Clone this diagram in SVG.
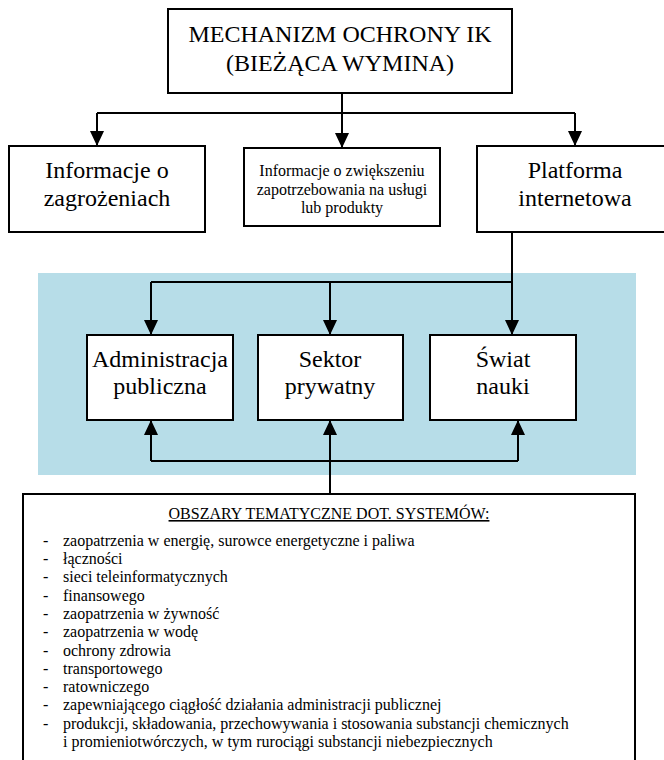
<svg xmlns="http://www.w3.org/2000/svg" width="664" height="760" viewBox="0 0 664 760">
<style>
  .box { fill: #ffffff; stroke: #000000; stroke-width: 2; }
  .conn { fill: none; stroke: #000000; stroke-width: 2; }
  text { font-family: "Liberation Serif", "Times New Roman", serif; fill: #000000; }
  .t24 { font-size: 24px; text-anchor: middle; }
  .t16c { font-size: 16px; text-anchor: middle; }
  .t16 { font-size: 16px; }
</style>
<defs>
  <marker id="arrow" markerUnits="userSpaceOnUse" markerWidth="15" markerHeight="14" refX="15" refY="7" orient="auto">
    <path d="M0,0 L15,7 L0,14 Z" fill="#000000"/>
  </marker>
</defs>
<rect id="background" x="38" y="273" width="598" height="202" fill="#B7DDE8"/>
<g id="connectors">
  <path class="conn" d="M342,93 V113"/>
  <path class="conn" d="M97,113 H575"/>
  <path class="conn" d="M97,113 V146" marker-end="url(#arrow)"/>
  <path class="conn" d="M342,113 V148" marker-end="url(#arrow)"/>
  <path class="conn" d="M575,113 V146" marker-end="url(#arrow)"/>
  <path class="conn" d="M512,232 V335" marker-end="url(#arrow)"/>
  <path class="conn" d="M151,282 H512"/>
  <path class="conn" d="M151,282 V335" marker-end="url(#arrow)"/>
  <path class="conn" d="M330,282 V335" marker-end="url(#arrow)"/>
  <path class="conn" d="M330,494 V420" marker-end="url(#arrow)"/>
  <path class="conn" d="M151,461 H518"/>
  <path class="conn" d="M151,461 V420" marker-end="url(#arrow)"/>
  <path class="conn" d="M518,461 V420" marker-end="url(#arrow)"/>
</g>
<g id="mechanizm">
  <rect class="box" x="168" y="9" width="344" height="84"/>
  <text class="t24" x="340" y="42">MECHANIZM OCHRONY IK</text>
  <text class="t24" x="340" y="71">(BIEŻĄCA WYMINA)</text>
</g>
<g id="informacje-zagrozenia">
  <rect class="box" x="9" y="146" width="196" height="86"/>
  <text class="t24" x="107" y="178">Informacje o</text>
  <text class="t24" x="107" y="206">zagrożeniach</text>
</g>
<g id="informacje-zapotrzebowanie">
  <rect class="box" x="244" y="148" width="196" height="78"/>
  <text class="t16c" x="342" y="176">Informacje o zwiększeniu</text>
  <text class="t16c" x="342" y="194.5">zapotrzebowania na usługi</text>
  <text class="t16c" x="342" y="213">lub produkty</text>
</g>
<g id="platforma">
  <rect class="box" x="477" y="146" width="196" height="86"/>
  <text class="t24" x="575" y="178">Platforma</text>
  <text class="t24" x="575" y="206">internetowa</text>
</g>
<g id="administracja">
  <rect class="box" x="87" y="335" width="146" height="85"/>
  <text class="t24" x="160" y="367">Administracja</text>
  <text class="t24" x="160" y="394">publiczna</text>
</g>
<g id="sektor">
  <rect class="box" x="258" y="335" width="145" height="85"/>
  <text class="t24" x="330" y="367">Sektor</text>
  <text class="t24" x="330" y="394">prywatny</text>
</g>
<g id="swiat">
  <rect class="box" x="430" y="335" width="146" height="85"/>
  <text class="t24" x="503" y="367">Świat</text>
  <text class="t24" x="503" y="394">nauki</text>
</g>
<g id="obszary">
  <rect class="box" x="23" y="494" width="612" height="300"/>
  <text class="t16c" x="329" y="519" text-decoration="underline">OBSZARY TEMATYCZNE DOT. SYSTEMÓW:</text>
  <g class="t16">
    <text x="43" y="545.7">-</text><text x="63" y="545.7">zaopatrzenia w energię, surowce energetyczne i paliwa</text>
    <text x="43" y="564">-</text><text x="63" y="564">łączności</text>
    <text x="43" y="582.3">-</text><text x="63" y="582.3">sieci teleinformatycznych</text>
    <text x="43" y="600.6">-</text><text x="63" y="600.6">finansowego</text>
    <text x="43" y="618.9">-</text><text x="63" y="618.9">zaopatrzenia w żywność</text>
    <text x="43" y="637.2">-</text><text x="63" y="637.2">zaopatrzenia w wodę</text>
    <text x="43" y="655.5">-</text><text x="63" y="655.5">ochrony zdrowia</text>
    <text x="43" y="673.8">-</text><text x="63" y="673.8">transportowego</text>
    <text x="43" y="692.1">-</text><text x="63" y="692.1">ratowniczego</text>
    <text x="43" y="710.4">-</text><text x="63" y="710.4">zapewniającego ciągłość działania administracji publicznej</text>
    <text x="43" y="728.7">-</text><text x="63" y="728.7">produkcji, składowania, przechowywania i stosowania substancji chemicznych</text>
    <text x="63" y="747">i promieniotwórczych, w tym rurociągi substancji niebezpiecznych</text>
  </g>
</g>
</svg>
